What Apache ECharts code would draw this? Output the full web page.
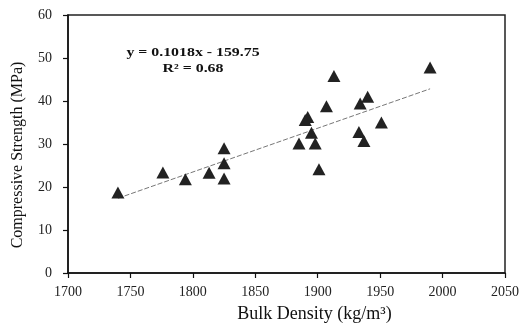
<!DOCTYPE html>
<html>
<head>
<meta charset="utf-8">
<script src="https://cdn.jsdelivr.net/npm/echarts@6/dist/echarts.min.js"></script>
<style>html,body{margin:0;padding:0;background:#fff}#c{width:521px;height:324px}</style>
</head>
<body>
<div id="c"></div>
<script>
const density = [1740, 1776, 1794, 1813, 1825, 1825, 1825, 1885, 1890, 1892, 1895, 1898, 1901, 1907, 1913, 1933, 1934, 1937, 1940, 1951, 1990];
const strength = [18.7, 23.4, 21.8, 23.3, 29.0, 25.5, 22.0, 30.1, 35.6, 36.3, 32.6, 30.1, 24.1, 38.8, 45.8, 32.8, 39.4, 30.7, 41.0, 35.0, 47.8];
const trendSlope = [0.1018];
const trendIntercept = [-159.75];
const trendRange = [1740, 1990];
const xTicks = [1700, 1750, 1800, 1850, 1900, 1950, 2000, 2050];
const yTicks = [0, 10, 20, 30, 40, 50, 60];
const xName = ['Bulk Density (kg/m³)'];
const yName = ['Compressive Strength (MPa)'];
const annotation = ['y = 0.1018x - 159.75', 'R² = 0.68'];

const pts = density.map((d, i) => [d, strength[i]]);
const trend = trendRange.map(x => [x, trendSlope[0] * x + trendIntercept[0]]);
const font = '"Liberation Serif", "Times New Roman", serif';

const chart = echarts.init(document.getElementById('c'), null, {renderer: 'canvas'});
chart.setOption({
  animation: false,
  backgroundColor: '#fff',
  grid: {left: 68, top: 15, right: 16, bottom: 51, containLabel: false, outerBoundsMode: 'none',
         show: true, borderColor: '#222', borderWidth: 1.5, backgroundColor: 'transparent'},
  xAxis: {
    type: 'value', min: xTicks[0], max: xTicks[xTicks.length - 1], interval: 50,
    name: xName[0], nameLocation: 'middle', nameGap: 32,
    nameTextStyle: {fontFamily: font, fontSize: 18, color: '#111', padding: [0, 0, 0, 56]},
    axisLine: {show: true, onZero: false, lineStyle: {color: '#111', width: 1.5}},
    axisTick: {show: true, inside: false, length: 5, lineStyle: {color: '#111', width: 1.2}},
    axisLabel: {fontFamily: font, fontSize: 14, color: '#222', margin: 12, formatter: v => String(v)},
    splitLine: {show: false}
  },
  yAxis: {
    type: 'value', min: yTicks[0], max: yTicks[yTicks.length - 1], interval: 10,
    name: yName[0], nameLocation: 'middle', nameGap: 42,
    nameTextStyle: {fontFamily: font, fontSize: 16, color: '#111', padding: [0, 22, 0, 0]},
    axisLine: {show: true, onZero: false, lineStyle: {color: '#111', width: 1.5}},
    axisTick: {show: true, inside: false, length: 5, lineStyle: {color: '#111', width: 1.2}},
    axisLabel: {fontFamily: font, fontSize: 14, color: '#222', margin: 16, formatter: v => String(v)},
    splitLine: {show: false}
  },
  graphic: [{
    type: 'text', x: 193, y: 45, scaleX: 1.32,
    style: {text: annotation.join('\n'), font: 'bold 12px ' + font, fill: '#111', lineHeight: 16, align: 'center'}
  }],
  series: [
    {
      type: 'line', data: trend, symbol: 'none', silent: true,
      lineStyle: {color: '#777', width: 1, type: [5, 2]}, z: 1
    },
    {
      type: 'scatter', data: pts, symbol: 'triangle', symbolSize: [13, 12],
      itemStyle: {color: '#222', opacity: 1}, z: 3
    }
  ]
});
</script>
</body>
</html>
